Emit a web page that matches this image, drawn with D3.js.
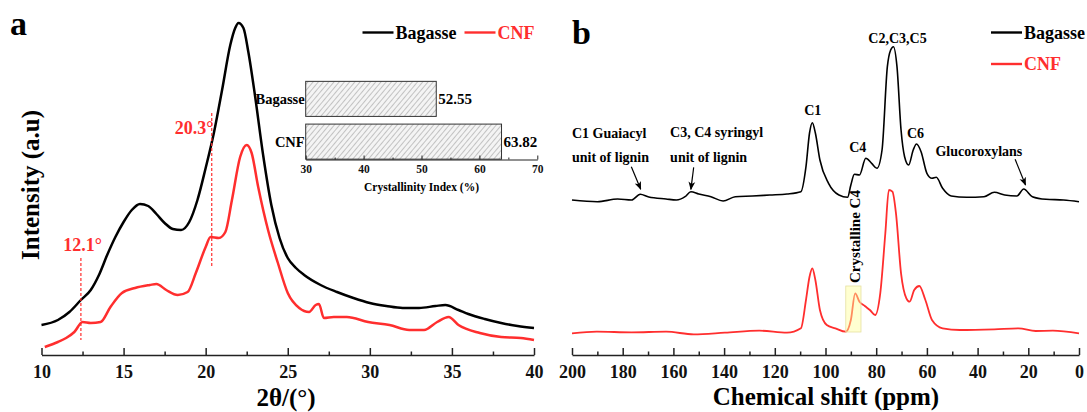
<!DOCTYPE html>
<html>
<head>
<meta charset="utf-8">
<script src="https://cdn.jsdelivr.net/npm/d3@7"></script>
<style>
  body { margin: 0; background: #fff; }
  svg { display: block; font-family: "Liberation Serif", "Times New Roman", serif; font-weight: bold; }
</style>
</head>
<body>
<div id="chart"></div>
<script>
// ---- data ----
// (a) XRD patterns, 2theta (deg) vs intensity (a.u.)
var xrdBagasseTheta = [10, 11, 11.7, 12.4, 13, 13.5, 14, 14.5, 15, 15.5, 16, 16.5, 17, 17.5, 18, 18.5, 19, 19.5, 20, 20.5, 21, 21.5, 21.8, 22, 22.3, 22.6, 23, 23.5, 24, 24.5, 25, 25.5, 26, 27, 28, 29, 30, 31, 32, 33, 34, 34.6, 35.4, 36, 37, 38, 39, 40];
var xrdBagasseI = [300, 350, 430, 550, 650, 800, 1000, 1180, 1330, 1450, 1510, 1490, 1410, 1320, 1260, 1250, 1330, 1550, 1870, 2220, 2650, 3100, 3270, 3320, 3270, 3030, 2600, 2000, 1500, 1170, 970, 870, 800, 700, 630, 570, 520, 490, 470, 470, 490, 500, 450, 410, 360, 320, 290, 270];
var xrdCnfTheta = [10.2, 11, 11.5, 12, 12.5, 13, 13.6, 14.2, 14.9, 15.7, 16.6, 17, 17.6, 18.3, 18.9, 19.4, 20, 20.3, 20.8, 21.2, 21.6, 22.1, 22.5, 22.8, 23.2, 23.8, 24.4, 25, 25.7, 26.3, 26.7, 26.9, 27.2, 27.8, 28.6, 29.9, 31.2, 32.4, 33.3, 34.1, 34.8, 35.4, 36.7, 38, 39.2, 40];
var xrdCnfI = [80, 130, 170, 230, 330, 320, 330, 480, 620, 670, 700, 710, 650, 600, 630, 820, 1080, 1180, 1170, 1230, 1550, 1980, 2100, 2020, 1680, 1250, 920, 620, 470, 430, 500, 510, 370, 380, 380, 330, 300, 250, 250, 330, 380, 300, 220, 180, 170, 150];
var xrdTicks = [10, 15, 20, 25, 30, 35, 40];
var xrdMinorTicks = [12.5, 17.5, 22.5, 27.5, 32.5, 37.5];

// inset: crystallinity index (%)
var ciCategories = ["Bagasse", "CNF"];
var ciValues = [52.55, 63.82];
var ciTicks = [30, 40, 50, 60, 70];
var ciMinorTicks = [35, 45, 55, 65];

// (b) 13C NMR spectra, chemical shift (ppm) vs intensity (a.u.)
var nmrBagassePpm = [200, 190, 182, 176.5, 173.1, 169.7, 162.9, 158.8, 155.4, 153.1, 150, 145.2, 140.4, 135.6, 128.8, 122, 115.2, 109.7, 107.7, 106.3, 105.2, 104, 102.2, 98.8, 94.7, 91.3, 90, 88.6, 86.6, 84.1, 81.8, 79.7, 77.7, 75.6, 74.3, 73.2, 71.8, 70.2, 68.8, 67.2, 65.4, 64.1, 62.3, 60, 58, 56.3, 53.8, 50.4, 44.3, 37.5, 33.4, 29.3, 24.5, 21.8, 18.4, 13, 6.1, 0];
var nmrBagasseI = [1550, 1533, 1560, 1550, 1607, 1580, 1560, 1550, 1583, 1633, 1610, 1583, 1540, 1583, 1590, 1600, 1610, 1633, 1883, 2220, 2323, 2220, 1950, 1717, 1600, 1577, 1700, 1807, 1800, 1967, 1917, 1867, 2050, 2883, 3050, 3083, 2883, 2250, 1983, 1900, 2050, 2110, 2033, 1817, 1767, 1777, 1667, 1590, 1577, 1583, 1627, 1600, 1590, 1660, 1583, 1557, 1550, 1533];
var nmrCnfPpm = [200, 190.2, 176.5, 162.9, 152, 139.7, 126.1, 115.2, 109.7, 107.7, 106.3, 105.2, 104, 102.2, 99.5, 96.1, 92, 90, 88.3, 86.6, 84.5, 82.5, 80.4, 78.4, 76.4, 75, 73.6, 72.2, 70.2, 68.1, 66.8, 65, 63, 60.6, 58, 53.8, 47, 33.4, 23.9, 17.1, 10.3, 0];
var nmrCnfI = [217, 233, 227, 233, 207, 223, 243, 223, 267, 550, 783, 867, 750, 450, 300, 267, 233, 350, 617, 533, 490, 450, 400, 617, 1217, 1650, 1633, 1417, 817, 567, 533, 650, 690, 550, 350, 267, 250, 257, 267, 240, 243, 217];
var nmrTicks = [200, 180, 160, 140, 120, 100, 80, 60, 40, 20, 0];
var nmrMinorTicks = [190, 170, 150, 130, 110, 90, 70, 50, 30, 10];

var seriesNames = ["Bagasse", "CNF"];

// ---- drawing ----
var W = 1087, H = 412;
var red = "#ff2e2e";
var serif = "Liberation Serif";

var svg = d3.select("#chart").append("svg")
  .attr("width", W)
  .attr("height", H);

var defs = svg.append("defs");
var hatch = defs.append("pattern")
  .attr("id", "hatch")
  .attr("patternUnits", "userSpaceOnUse")
  .attr("width", 4)
  .attr("height", 4)
  .attr("patternTransform", "rotate(40)");
hatch.append("rect").attr("width", 4).attr("height", 4).attr("fill", "#f4f4f4");
hatch.append("line").attr("x1", 0).attr("y1", 0).attr("x2", 0).attr("y2", 4)
  .attr("stroke", "#777").attr("stroke-width", 0.8);

defs.append("marker")
  .attr("id", "arrow")
  .attr("viewBox", "0 0 10 10")
  .attr("refX", 9).attr("refY", 5)
  .attr("markerWidth", 7).attr("markerHeight", 7)
  .attr("orient", "auto")
  .append("path").attr("d", "M0,1 L10,5 L0,9 L2.5,5 Z").attr("fill", "#000");

// draws a bottom axis with major (labelled) and minor ticks pointing up
function bottomAxis(g, scale, major, minor, y, opt) {
  g.append("g")
    .attr("transform", `translate(0,${y})`)
    .call(d3.axisBottom(scale).tickValues(minor).tickSize(-opt.minor).tickSizeOuter(0).tickFormat(""))
    .call(a => a.select(".domain").remove())
    .selectAll("line").attr("stroke", "#222").attr("stroke-width", opt.width);

  var ax = g.append("g")
    .attr("transform", `translate(0,${y})`)
    .call(d3.axisBottom(scale).tickValues(major).tickSize(-opt.major).tickSizeOuter(0)
      .tickPadding(opt.pad).tickFormat(d3.format("d")))
    .attr("font-family", serif)
    .attr("font-size", opt.font)
    .attr("font-weight", "bold");
  ax.select(".domain").attr("stroke", "#222").attr("stroke-width", opt.width);
  ax.selectAll(".tick line").attr("stroke", "#222").attr("stroke-width", opt.width);
  ax.selectAll(".tick text").attr("fill", "#111");
  return ax;
}

function legend(g, x, y, name, color) {
  g.append("line")
    .attr("x1", x).attr("x2", x + 31)
    .attr("y1", y).attr("y2", y)
    .attr("stroke", color).attr("stroke-width", 2.4);
  g.append("text")
    .attr("x", x + 33).attr("y", y + 6)
    .attr("font-size", 18)
    .attr("fill", color)
    .text(name);
}

// ===== panel a =====
var gA = svg.append("g");
var xA = d3.scaleLinear().domain([10, 40]).range([41.5, 534]);
var yA = d3.scaleLinear().domain([0, 3400]).range([355, 15]);

var lineA = d3.line()
  .x(d => xA(d[0]))
  .y(d => yA(d[1]))
  .curve(d3.curveMonotoneX);

gA.append("path")
  .datum(d3.zip(xrdBagasseTheta, xrdBagasseI))
  .attr("d", lineA)
  .attr("fill", "none")
  .attr("stroke", "#000")
  .attr("stroke-width", 2.5);

gA.append("path")
  .datum(d3.zip(xrdCnfTheta, xrdCnfI))
  .attr("d", lineA)
  .attr("fill", "none")
  .attr("stroke", red)
  .attr("stroke-width", 2.5);

// dashed peak markers
gA.append("line")
  .attr("x1", xA(12.4)).attr("x2", xA(12.4))
  .attr("y1", yA(970)).attr("y2", yA(150))
  .attr("stroke", red).attr("stroke-width", 1.2).attr("stroke-dasharray", "3,2");
gA.append("line")
  .attr("x1", xA(20.37)).attr("x2", xA(20.37))
  .attr("y1", yA(2420)).attr("y2", yA(880))
  .attr("stroke", red).attr("stroke-width", 1.2).attr("stroke-dasharray", "3,2");
gA.append("text")
  .attr("x", xA(12.5)).attr("y", yA(1040))
  .attr("text-anchor", "middle")
  .attr("font-size", 18).attr("fill", red)
  .text("12.1°");
gA.append("text")
  .attr("x", xA(19.3)).attr("y", yA(2210))
  .attr("text-anchor", "middle")
  .attr("font-size", 18).attr("fill", red)
  .text("20.3°");

bottomAxis(gA, xA, xrdTicks, xrdMinorTicks, 355, { major: 7, minor: 3.5, pad: 10, font: 18, width: 1.5 });

gA.append("text")
  .attr("x", 286).attr("y", 406)
  .attr("text-anchor", "middle")
  .attr("font-size", 25)
  .text("2θ/(°)");

gA.append("text")
  .attr("transform", "translate(39,185) rotate(-90)")
  .attr("text-anchor", "middle")
  .attr("font-size", 25)
  .text("Intensity (a.u)");

gA.append("text")
  .attr("x", 10).attr("y", 35)
  .attr("font-size", 34)
  .text("a");

legend(gA, 362.5, 32.5, seriesNames[0], "#000");
legend(gA, 464.5, 32.5, seriesNames[1], red);

// inset bar chart
var gI = svg.append("g");
var xI = d3.scaleLinear().domain([30, 70]).range([305.7, 537.3]);
var yI = d3.scaleBand().domain(ciCategories).range([80.5, 160]).paddingInner(0.18).paddingOuter(0.02);

gI.selectAll("rect.bar")
  .data(ciValues)
  .enter()
  .append("rect")
  .attr("class", "bar")
  .attr("x", xI(30))
  .attr("y", (d, i) => yI(ciCategories[i]))
  .attr("width", d => xI(d) - xI(30))
  .attr("height", yI.bandwidth())
  .attr("fill", "url(#hatch)")
  .attr("stroke", "#333")
  .attr("stroke-width", 1);

gI.selectAll("text.val")
  .data(ciValues)
  .enter()
  .append("text")
  .attr("class", "val")
  .attr("x", d => xI(d) + 2)
  .attr("y", (d, i) => yI(ciCategories[i]) + yI.bandwidth() / 2 + 5)
  .attr("font-size", 15)
  .text(d => d.toFixed(2));

gI.selectAll("text.cat")
  .data(ciCategories)
  .enter()
  .append("text")
  .attr("class", "cat")
  .attr("x", xI(30) - 1)
  .attr("y", d => yI(d) + yI.bandwidth() / 2 + 5)
  .attr("text-anchor", "end")
  .attr("font-size", 14.5)
  .text(d => d);

bottomAxis(gI, xI, ciTicks, ciMinorTicks, 159.5, { major: 4, minor: 2, pad: 5, font: 11.5, width: 1 });

gI.append("text")
  .attr("x", (xI(30) + xI(70)) / 2).attr("y", 191)
  .attr("text-anchor", "middle")
  .attr("font-size", 11.5)
  .text("Crystallinity Index (%)");

// ===== panel b =====
var gB = svg.append("g");
var xB = d3.scaleLinear().domain([200, 0]).range([572, 1079]);
var yB = d3.scaleLinear().domain([0, 3400]).range([355, 15]);

var lineB = d3.line()
  .x(d => xB(d[0]))
  .y(d => yB(d[1]))
  .curve(d3.curveMonotoneX);

gB.append("path")
  .datum(d3.zip(nmrBagassePpm, nmrBagasseI))
  .attr("d", lineB)
  .attr("fill", "none")
  .attr("stroke", "#000")
  .attr("stroke-width", 1.6);

gB.append("path")
  .datum(d3.zip(nmrCnfPpm, nmrCnfI))
  .attr("d", lineB)
  .attr("fill", "none")
  .attr("stroke", red)
  .attr("stroke-width", 1.8);

// crystalline C4 highlight
gB.append("rect")
  .attr("x", xB(92)).attr("y", yB(690))
  .attr("width", xB(86) - xB(92))
  .attr("height", yB(230) - yB(690))
  .attr("fill", "#ffff99").attr("fill-opacity", 0.45)
  .attr("stroke", "#e6e0a0").attr("stroke-width", 0.8);

gB.append("text")
  .attr("transform", `translate(${xB(88.6)},${yB(720)}) rotate(-90)`)
  .attr("dy", "0.35em")
  .attr("font-size", 15)
  .text("Crystalline C4");

var peakLabel = function (ppm, inten, txt, anchor) {
  gB.append("text")
    .attr("x", xB(ppm)).attr("y", yB(inten))
    .attr("text-anchor", anchor || "middle")
    .attr("font-size", 14)
    .text(txt);
};
peakLabel(105, 2400, "C1");
peakLabel(87.3, 2030, "C4");
peakLabel(71.6, 3120, "C2,C3,C5");
peakLabel(64.5, 2170, "C6");
peakLabel(39.5, 1990, "Glucoroxylans");
peakLabel(200, 2170, "C1 Guaiacyl", "start");
peakLabel(200, 1930, "unit of lignin", "start");
peakLabel(161.3, 2180, "C3, C4 syringyl", "start");
peakLabel(161.3, 1930, "unit of lignin", "start");

var arrow = function (p0, i0, p1, i1) {
  gB.append("line")
    .attr("x1", xB(p0)).attr("y1", yB(i0))
    .attr("x2", xB(p1)).attr("y2", yB(i1))
    .attr("stroke", "#000").attr("stroke-width", 1.2)
    .attr("marker-end", "url(#arrow)");
};
arrow(176.6, 1883, 172.9, 1657);
arrow(152, 1877, 153.1, 1657);
arrow(25.2, 1957, 21.1, 1700);

bottomAxis(gB, xB, nmrTicks, nmrMinorTicks, 355, { major: 7, minor: 3.5, pad: 10, font: 18, width: 1.5 });

gB.append("text")
  .attr("x", 826).attr("y", 405)
  .attr("text-anchor", "middle")
  .attr("font-size", 25)
  .text("Chemical shift (ppm)");

gB.append("text")
  .attr("x", 572).attr("y", 44)
  .attr("font-size", 34)
  .text("b");

legend(gB, 991, 32.5, seriesNames[0], "#000");
legend(gB, 991, 64, seriesNames[1], red);
</script>
</body>
</html>
